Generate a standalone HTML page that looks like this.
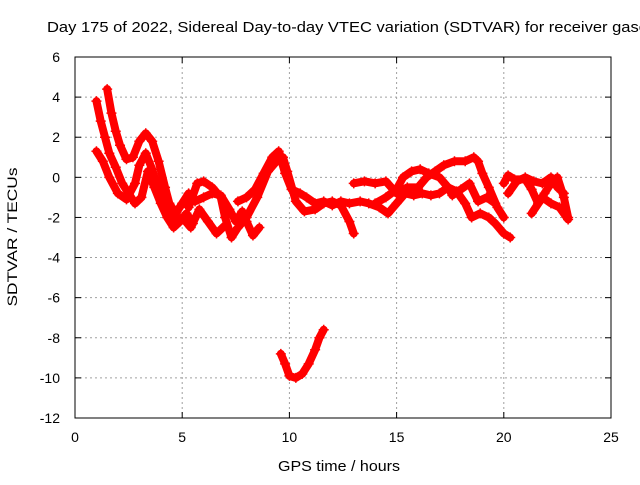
<!DOCTYPE html>
<html><head><meta charset="utf-8"><style>
body{margin:0;background:#fff}
svg text{font-family:"Liberation Sans",sans-serif;font-size:14px;fill:#000}
</style></head><body>
<svg id="chart" width="640" height="480">
<text x="47" y="32" textLength="600" lengthAdjust="spacingAndGlyphs" style="font-size:15px">Day 175 of 2022, Sidereal Day-to-day VTEC variation (SDTVAR) for receiver gasc</text>
<text x="278" y="471" textLength="122" lengthAdjust="spacingAndGlyphs" style="font-size:15px">GPS time / hours</text>
<text transform="translate(17,237) rotate(-90)" text-anchor="middle" textLength="139" lengthAdjust="spacingAndGlyphs">SDTVAR / TECUs</text>
<g id="grid"></g><g id="marks"></g><g id="ticks"></g>
<rect x="75" y="57" width="536" height="361" fill="none" stroke="#000"/>
</svg>
<script>
const xTicks=[0,5,10,15,20,25];
const yTicks=[6,4,2,0,-2,-4,-6,-8,-10,-12];
const s1=[[1.0,3.8],[1.2,2.8],[1.4,2.0],[1.6,1.2],[1.9,0.5],[2.2,-0.3],[2.5,-0.8],[2.8,-1.3],[3.1,-1.0],[3.4,0.3],[3.7,-0.5],[4.0,-1.3],[4.3,-2.0],[4.6,-2.5],[4.9,-2.2],[5.2,-1.8],[5.5,-2.3]];
const s2=[[1.5,4.4],[1.7,3.2],[1.9,2.3],[2.1,1.6],[2.4,0.9],[2.7,1.0],[3.0,1.8],[3.3,2.2],[3.6,1.8],[3.9,0.8],[4.2,-0.5],[4.4,-1.3],[4.7,-1.8],[5.0,-1.3],[5.3,-0.8],[5.6,-1.2],[6.0,-1.0],[6.4,-0.8],[6.8,-0.9],[7.2,-1.6],[7.5,-2.2],[7.8,-1.7],[8.0,-2.2],[8.3,-2.9],[8.6,-2.5]];
const s3=[[1.0,1.3],[1.3,0.8],[1.6,0.0],[2.0,-0.8],[2.4,-1.1],[2.8,-0.3],[3.0,0.6],[3.3,1.2],[3.6,0.4],[4.0,-1.0],[4.3,-1.5],[4.7,-2.3],[5.0,-2.0],[5.4,-2.5],[5.8,-1.6],[6.2,-2.2],[6.6,-2.8],[7.0,-2.4]];
const s4=[[5.3,-1.5],[5.7,-0.3],[6.0,-0.2],[6.4,-0.5],[6.8,-1.0],[7.0,-2.0],[7.3,-3.0],[7.6,-2.5],[8.0,-2.0],[8.5,-1.0],[9.0,0.3],[9.4,0.8],[9.7,1.0],[9.9,0.3],[10.3,-1.2],[10.7,-1.7],[11.2,-1.6],[11.6,-1.3],[12.0,-1.2],[12.4,-1.4],[12.8,-2.2],[13.0,-2.8]];
const s5=[[7.6,-1.2],[8.0,-1.0],[8.4,-0.6],[8.8,0.2],[9.2,1.0],[9.5,1.3],[9.8,0.2],[10.1,-0.6],[10.5,-0.8],[10.8,-1.0],[11.2,-1.3],[11.6,-1.2],[12.0,-1.4],[12.4,-1.2],[12.8,-1.3],[13.3,-1.2],[13.7,-1.3],[14.2,-1.5],[14.6,-1.8],[15.0,-1.3],[15.4,-0.8],[15.8,-0.9],[16.2,-0.8],[16.6,-0.9],[17.0,-0.8],[17.4,-0.5],[17.8,-0.7],[18.2,-1.3],[18.5,-2.0],[18.9,-1.8],[19.3,-2.0],[19.6,-2.3],[20.0,-2.8],[20.3,-3.0]];
const s6=[[13.0,-0.3],[13.5,-0.2],[14.0,-0.3],[14.5,-0.2],[15.0,-0.8],[15.5,-0.5],[16.0,-0.5],[16.4,0.0],[16.8,0.3],[17.2,0.6],[17.7,0.8],[18.2,0.8],[18.6,1.0],[18.8,0.8],[19.0,0.2],[19.3,-0.5],[19.7,-1.5],[20.0,-2.0]];
const s7=[[14.0,-1.3],[14.5,-1.0],[15.0,-0.6],[15.3,0.0],[15.7,0.3],[16.1,0.4],[16.5,0.2],[17.0,0.0],[17.4,-0.5],[17.6,-0.9],[18.0,-0.6],[18.4,-0.3],[18.8,-1.2],[19.2,-1.0],[19.6,-1.3]];
const s8=[[20.0,-0.3],[20.2,0.1],[20.5,-0.1],[21.0,-0.1],[21.3,-0.6],[21.6,-1.3],[21.9,-0.8],[22.2,-0.3],[22.5,0.0],[22.8,-1.0],[23.0,-2.0]];
const s9=[[20.2,-0.8],[20.6,-0.2],[21.0,0.0],[21.4,-0.2],[21.8,-0.3],[22.2,0.0],[22.5,-0.5],[22.8,-0.8]];
const s10=[[21.3,-1.8],[21.8,-1.0],[22.2,-1.3],[22.6,-1.5],[23.0,-2.1]];
const s11=[[9.6,-8.8],[9.8,-9.3],[10.0,-9.9],[10.3,-10.0],[10.6,-9.8],[10.9,-9.3],[11.2,-8.6],[11.4,-8.0],[11.6,-7.6]];
const series=[s1,s2,s3,s4,s5,s6,s7,s8,s9,s10,s11];
const NS='http://www.w3.org/2000/svg';
const X0=75,X1=611,Y0=418,Y1=57;
function xs(v){return X0+(v-0)/(25-0)*(X1-X0);}
function ys(v){return Y0-(v+12)/(6+12)*(Y0-Y1);}
function mk(t,a,p){const e=document.createElementNS(NS,t);for(const k in a)e.setAttribute(k,a[k]);p.appendChild(e);return e;}
const grid=document.getElementById('grid'),ticks=document.getElementById('ticks'),marks=document.getElementById('marks');
xTicks.forEach(v=>{const x=xs(v);
 if(v>0&&v<25){const g=mk('line',{x1:x,x2:x,y1:Y1,y2:Y0,stroke:'#a0a0a0','stroke-dasharray':'2,3'},grid);
 
 }
 mk('line',{x1:x,x2:x,y1:Y0,y2:Y0-6,stroke:'#000'},ticks);mk('line',{x1:x,x2:x,y1:Y1,y2:Y1+6,stroke:'#000'},ticks);
 const t=mk('text',{x:x,y:Y0+24,'text-anchor':'middle'},ticks);t.textContent=v;
 
 });
yTicks.forEach(v=>{const y=ys(v);
 if(v<6&&v>-12){const g=mk('line',{x1:X0,x2:X1,y1:y,y2:y,stroke:'#a0a0a0','stroke-dasharray':'2,3'},grid);
 
 }
 mk('line',{x1:X0,x2:X0+6,y1:y,y2:y,stroke:'#000'},ticks);mk('line',{x1:X1,x2:X1-6,y1:y,y2:y,stroke:'#000'},ticks);
 const t=mk('text',{x:X0-15,y:y+5,'text-anchor':'end'},ticks);t.textContent=v;
 
 });
series.forEach((s,i)=>{
 const pts=s.map(p=>xs(p[0])+','+ys(p[1])).join(' ');
 const pl=mk('polyline',{points:pts,fill:'none',stroke:'#ff0000','stroke-width':8,'stroke-linejoin':'round','stroke-linecap':'round'},marks);
 
 
 s.forEach(p=>{const x=xs(p[0]),y=ys(p[1]);
  const m=mk('path',{d:`M${x-5},${y}H${x+5}M${x},${y-5}V${y+5}`,stroke:'#ff0000','stroke-width':1.5},marks);
  
  });
});
</script>
</body></html>
